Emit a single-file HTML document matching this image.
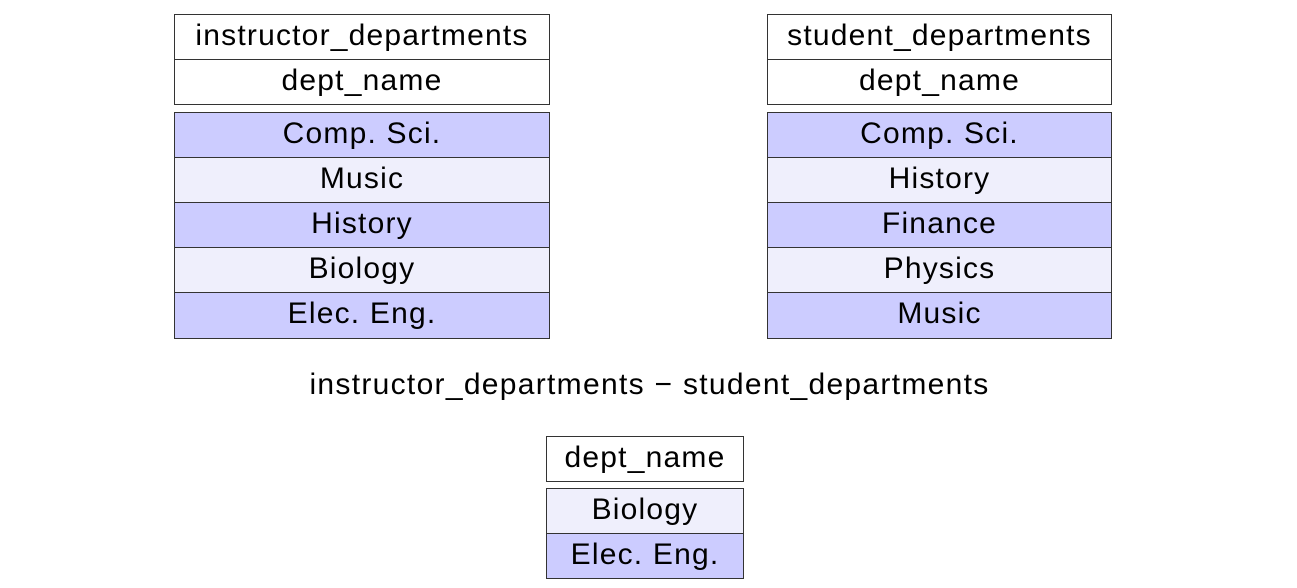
<!DOCTYPE html>
<html><head><meta charset="utf-8"><style>
body{margin:0;width:1297px;height:588px;background:#fff;position:relative;font-family:"Liberation Sans",sans-serif;overflow:hidden}
.c{position:absolute;box-sizing:border-box;border:1px solid #333;display:flex;align-items:center;justify-content:center;font-size:30px;letter-spacing:1.2px;color:#000;padding-bottom:3px}
.w{background:#fff}.d{background:#ccccff}.l{background:#efeffc}
.t{position:absolute;font-size:30px;letter-spacing:1.3px;white-space:nowrap}
</style></head><body>
<div class="c w" style="left:174px;top:14px;width:376px;height:46px">instructor_departments</div>
<div class="c w" style="left:174px;top:59px;width:376px;height:46px">dept_name</div>
<div class="c d" style="left:174px;top:112px;width:376px;height:46px">Comp. Sci.</div>
<div class="c l" style="left:174px;top:157px;width:376px;height:46px">Music</div>
<div class="c d" style="left:174px;top:202px;width:376px;height:46px">History</div>
<div class="c l" style="left:174px;top:247px;width:376px;height:46px">Biology</div>
<div class="c d" style="left:174px;top:292px;width:376px;height:47px">Elec. Eng.</div>

<div class="c w" style="left:767px;top:14px;width:345px;height:46px">student_departments</div>
<div class="c w" style="left:767px;top:59px;width:345px;height:46px">dept_name</div>
<div class="c d" style="left:767px;top:112px;width:345px;height:46px">Comp. Sci.</div>
<div class="c l" style="left:767px;top:157px;width:345px;height:46px">History</div>
<div class="c d" style="left:767px;top:202px;width:345px;height:46px">Finance</div>
<div class="c l" style="left:767px;top:247px;width:345px;height:46px">Physics</div>
<div class="c d" style="left:767px;top:292px;width:345px;height:47px">Music</div>

<div class="t" style="left:0;width:1297px;text-align:center;padding-left:2px;box-sizing:border-box;top:368px">instructor_departments − student_departments</div>

<div class="c w" style="left:546px;top:436px;width:198px;height:46px">dept_name</div>
<div class="c l" style="left:546px;top:488px;width:198px;height:46px">Biology</div>
<div class="c d" style="left:546px;top:533px;width:198px;height:46px">Elec. Eng.</div>
</body></html>
